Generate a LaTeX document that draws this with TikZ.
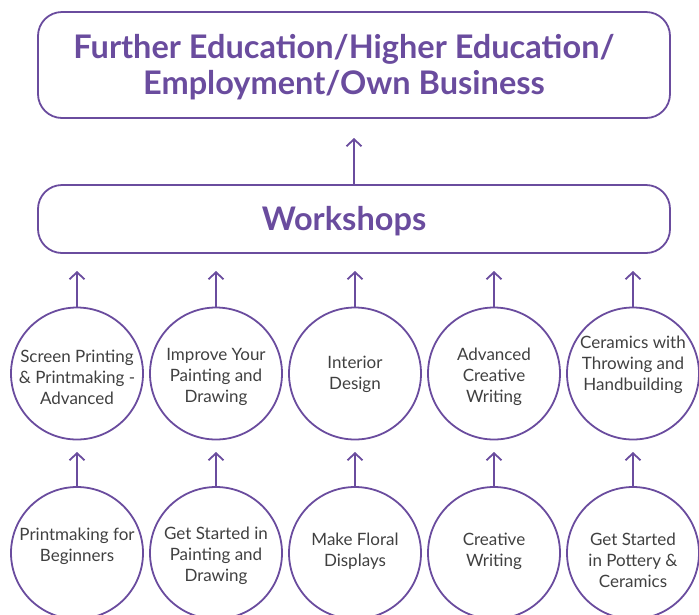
\documentclass[tikz,border=0pt]{standalone}
\usepackage{fontspec}
\setmainfont{Lato}
\usetikzlibrary{arrows.meta}
\definecolor{purp}{RGB}{106,76,158}
\definecolor{txt}{RGB}{64,64,64}
\begin{document}
\begin{tikzpicture}[x=1pt,y=-1pt,
  bigbox/.style={draw=purp,line width=1.8pt,rounded corners=24pt,inner sep=0pt},
  circ/.style={draw=purp,line width=1.8pt,circle,minimum size=132pt,inner sep=0pt},
  ctext/.style={text=txt,font=\fontsize{17}{21}\selectfont,align=center,inner sep=0pt},
  head/.style={text=purp,font=\fontsize{32.5}{36}\selectfont\bfseries,align=center,inner sep=0pt},
  arr/.style={draw=purp,line width=1.8pt,-{Straight Barb[length=7pt,width=15pt,line width=1.8pt]}}]
\useasboundingbox (0,0) rectangle (699,614);
\clip (0,0) rectangle (699,614);
% top box
\node[bigbox,minimum width=632pt,minimum height=106pt] (top) at (354,65) {};
\node[head] (toptxt) at (344,67) {Further Education/Higher Education/\\Employment/Own Business};
% workshops
\node[bigbox,minimum width=632pt,minimum height=68pt] (ws) at (354,219) {};
\node[head] (wstxt) at (344,221) {Workshops};
\coordinate (wstip) at (354,138);
\draw[arr] (ws.north) -- (wstip);
% row 1 circles
\foreach \i/\x/\ty/\t in {1/77/377/{Screen Printing\\\& Printmaking -\\Advanced},
  2/216/377/{Improve Your\\Painting and\\Drawing},
  3/355/374.5/{Interior\\Design},
  4/494/377/{Advanced\\Creative\\Writing},
  5/633/365/{Ceramics with\\Throwing and\\Handbuilding}}{
  \node[circ] (a\i) at (\x,373.5) {};
  \node[ctext] (at\i) at (\x,\ty) {\t};
  \coordinate (atip\i) at (\x,271);
  \draw[arr] (a\i.north) -- (atip\i);
}
% row 2 circles
\foreach \i/\x/\ty/\t in {1/77/546.5/{Printmaking for\\Beginners},
  2/216/556/{Get Started in\\Painting and\\Drawing},
  3/355/551.5/{Make Floral\\Displays},
  4/494/551/{Creative\\Writing},
  5/633/560/{Get Started\\in Pottery \&\\Ceramics}}{
  \node[circ] (b\i) at (\x,553) {};
  \node[ctext] (bt\i) at (\x,\ty) {\t};
  \coordinate (btip\i) at (\x,452);
  \draw[arr] (b\i.north) -- (btip\i);
}
\end{tikzpicture}
\end{document}
